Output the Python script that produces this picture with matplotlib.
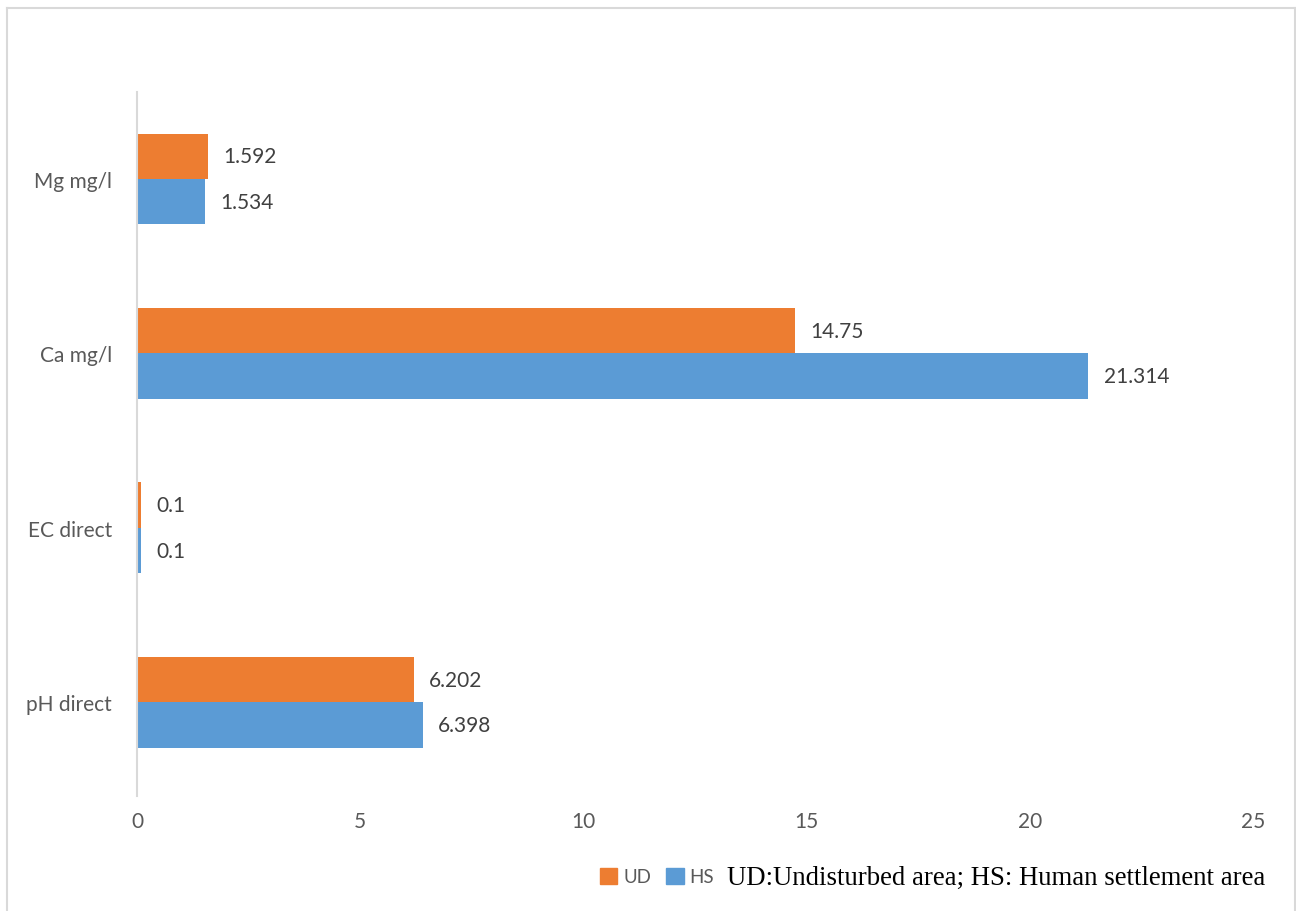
import matplotlib
matplotlib.use("Agg")
import matplotlib.pyplot as plt
from matplotlib.patches import Rectangle
from matplotlib.lines import Line2D
import numpy as np

categories = ["pH direct", "EC direct", "Ca mg/l", "Mg mg/l"]
ud_values = [6.202, 0.1, 14.75, 1.592]
hs_values = [6.398, 0.1, 21.314, 1.534]
ud_labels = ["6.202", "0.1", "14.75", "1.592"]
hs_labels = ["6.398", "0.1", "21.314", "1.534"]
x_ticks = [0, 5, 10, 15, 20, 25]
series_names = ["UD", "HS"]
note_text = "UD:Undisturbed area; HS: Human settlement area"

ORANGE = "#ED7D31"
BLUE = "#5B9BD5"
GRID = "#D9D9D9"
TEXT = "#595959"
LABEL = "#404040"
FONT = ["Lato", "DejaVu Sans"]

W, H = 1296, 912
fig = plt.figure(figsize=(W / 100, H / 100), dpi=100)
fig.patch.set_facecolor("white")

# light frame around the chart area (open at the bottom)
fx = lambda px: px / W
fy = lambda py: 1 - py / H
for xs, ys in [((7, 7), (8.5, 915)), ((7, 1295), (8.5, 8.5)), ((1295, 1295), (8.5, 915))]:
    fig.add_artist(Line2D([fx(v) for v in xs], [fy(v) for v in ys],
                          transform=fig.transFigure, color=GRID, linewidth=1.5))

ax = fig.add_axes([fx(137), fy(797), (1253 - 137) / W, (797 - 93) / H])

y = np.arange(len(categories))
h = 0.26
ax.barh(y + h / 2, ud_values, height=h, color=ORANGE, label=series_names[0])
ax.barh(y - h / 2, hs_values, height=h, color=BLUE, label=series_names[1])

for yi, v, t in zip(y, ud_values, ud_labels):
    ax.annotate(t, (v, yi + h / 2), xytext=(11, 0), textcoords="offset points",
                va="center", ha="left", fontsize=15, color=LABEL, family=FONT)
for yi, v, t in zip(y, hs_values, hs_labels):
    ax.annotate(t, (v, yi - h / 2), xytext=(11, 0), textcoords="offset points",
                va="center", ha="left", fontsize=15, color=LABEL, family=FONT)

ax.set_xlim(0, 25)
ax.set_ylim(-0.537, 3.498)
ax.set_xticks(x_ticks)
ax.set_xticklabels([str(t) for t in x_ticks], fontsize=15, color=TEXT, family=FONT)
ax.set_yticks(y)
ax.set_yticklabels(categories, fontsize=15, color=TEXT, family=FONT)
ax.tick_params(axis="both", length=0)
ax.tick_params(axis="x", pad=11)
ax.tick_params(axis="y", pad=18)

for side in ["top", "right", "bottom"]:
    ax.spines[side].set_visible(False)
ax.spines["left"].set_color(GRID)
ax.spines["left"].set_linewidth(1.5)

# legend squares and explanatory note
leg = fig.legend(handles=[Rectangle((0, 0), 1, 1, color=ORANGE),
                          Rectangle((0, 0), 1, 1, color=BLUE)],
                 labels=series_names, loc="center left",
                 bbox_to_anchor=(fx(594), fy(877.5)), ncol=2, frameon=False,
                 handlelength=0.95, handleheight=0.95, handletextpad=0.3,
                 columnspacing=0.8, borderaxespad=0, borderpad=0.3,
                 prop={"family": FONT, "size": 13.5})
for t in leg.get_texts():
    t.set_color(TEXT)

fig.text(fx(727), fy(878), note_text, ha="left", va="center",
         fontsize=19.3, family="Liberation Serif", color="black")

fig.savefig("out.png", dpi=100, facecolor="white")
